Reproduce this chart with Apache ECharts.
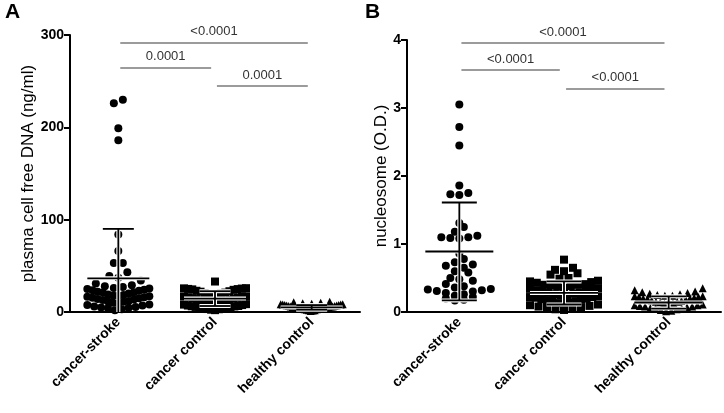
<!DOCTYPE html>
<html>
<head>
<meta charset="utf-8">
<script src="https://cdn.jsdelivr.net/npm/echarts@6/dist/echarts.min.js"></script>
<style>
html,body{margin:0;padding:0;background:#fff;}
#chart{width:724px;height:413px;}
</style>
</head>
<body>
<div id="chart"></div>
<script>
// ========== data ==========
const groups = ['cancer-stroke', 'cancer control', 'healthy control'];

// A: plasma cell free DNA (ng/ml)
const dnaStroke = [230, 226, 199, 186, 84, 66, 53, 53, 43, 39, 37, 34, 31, 29, 28, 27, 26, 25.5, 25, 24, 23.5, 23, 22,
    21.5, 21, 20, 19, 18.5, 18, 17.5, 17, 16.5, 16, 15.5, 15, 14, 13.5, 13, 12, 11.5, 11, 10, 9.5, 8, 7.5, 7, 6, 5.5, 5,
    4.5, 4, 3, 2];
const dnaCancer = [33, 25.8, 25.6, 25.4, 25, 24.8, 24.5, 24, 23, 22.5, 22, 21, 20.5, 20, 19, 18.5, 18, 17, 16.8, 16.5,
    16, 15.5, 15, 14.5, 14, 13, 12.5, 12, 11.5, 11, 10, 9.5, 9, 8.5, 8, 7.5, 7, 6.5, 6.2, 6, 5.5, 5, 4.5, 4.2, 4, 3.5,
    3.2, 3, 2.5, 2];
const dnaHealthy = [11, 10.5, 10, 9.5, 9, 8.5, 8.5, 8, 8, 7.5, 7.5, 7, 7, 6.5, 6.5, 6, 6, 6, 5.5, 5.5, 5, 5, 5, 4.5, 4.5,
    4, 4, 4, 3.5, 3.5, 3, 3, 2.5, 2, 2, 1.5, 1];
const dnaMean = [36.5, 14.5, 5];
const dnaSD = [53.5, 8, 2.5];
const dnaTicks = [0, 100, 200, 300];
const dnaP = ['<0.0001', '0.0001', '0.0001'];
const dnaPLevel = [292, 265, 245];

// B: nucleosome (O.D.)
const nucStroke = [3.05, 2.72, 2.45, 1.86, 1.75, 1.73, 1.72, 1.31, 1.25, 1.18, 1.12, 1.1, 1.1, 1.09, 1.08, 0.86, 0.78,
    0.73, 0.7, 0.68, 0.65, 0.6, 0.58, 0.5, 0.48, 0.46, 0.41, 0.38, 0.36, 0.34, 0.33, 0.32, 0.31, 0.3, 0.28, 0.26, 0.24,
    0.22, 0.2, 0.18, 0.17];
const nucCancer = [0.77, 0.65, 0.62, 0.6, 0.57, 0.55, 0.5, 0.49, 0.46, 0.45, 0.44, 0.43, 0.41, 0.4, 0.4, 0.39, 0.38, 0.37,
    0.36, 0.35, 0.34, 0.33, 0.32, 0.31, 0.3, 0.29, 0.28, 0.27, 0.26, 0.25, 0.24, 0.23, 0.22, 0.22, 0.21, 0.2, 0.19, 0.18,
    0.17, 0.16, 0.15, 0.14, 0.13, 0.12, 0.11, 0.1, 0.09, 0.08, 0.07, 0.06, 0.05, 0.04, 0.03];
const nucHealthy = [0.35, 0.32, 0.3, 0.29, 0.28, 0.27, 0.26, 0.25, 0.24, 0.24, 0.23, 0.23, 0.22, 0.22, 0.21, 0.2, 0.2,
    0.19, 0.18, 0.17, 0.16, 0.15, 0.15, 0.14, 0.13, 0.12, 0.12, 0.11, 0.1, 0.1, 0.09, 0.08, 0.08, 0.07, 0.06, 0.05,
    0.05, 0.04, 0.03, 0.02, 0.01];
const nucMean = [0.89, 0.28, 0.14];
const nucSD = [0.72, 0.17, 0.09];
const nucTicks = [0, 1, 2, 3, 4];
const nucP = ['<0.0001', '<0.0001', '<0.0001'];
const nucPLevel = [3.96, 3.56, 3.29];

// brackets: which groups each p value compares
const pPairs = [[0, 2], [0, 1], [1, 2]];

// ========== layout ==========
const FONT = '"Liberation Sans", Arial, sans-serif';
const SYM = 8;        // symbol size px
const STEP = 9;       // horizontal spacing between symbols in a row
const panels = [
    { grid: { left: 70, top: 35, width: 290, height: 277 }, ticks: dnaTicks, name: 'plasma cell free DNA (ng/ml)',
      sets: [dnaStroke, dnaCancer, dnaHealthy], mean: dnaMean, sd: dnaSD, p: dnaP, pLevel: dnaPLevel,
      halfMax: 31, meanHalf: 31, capHalf: 15.5, nameGap: 32 },
    { grid: { left: 407, top: 40, width: 314, height: 272 }, ticks: nucTicks, name: 'nucleosome (O.D.)',
      sets: [nucStroke, nucCancer, nucHealthy], mean: nucMean, sd: nucSD, p: nucP, pLevel: nucPLevel,
      halfMax: 34, meanHalf: 34, capHalf: 17.5, nameGap: 17 }
];
const symbols = ['circle', 'rect', 'triangle'];

// Prism style column scatter: points binned into rows one symbol high,
// lowest value of each row in the middle, higher ones pushed out to the sides
function swarm(vals, gi, pxY, pxX, halfMax) {
    const bin = SYM / pxY;
    const rows = {};
    vals.forEach(v => { const k = Math.floor(v / bin); (rows[k] = rows[k] || []).push(v); });
    const out = [];
    Object.values(rows).forEach(r => {
        r.sort((a, b) => a - b);
        const n = r.length;
        const step = n > 1 ? Math.min(STEP, 2 * halfMax / (n - 1)) : 0;
        const slots = [];
        for (let j = 0; j < n; j++) slots.push((j - (n - 1) / 2) * step);
        slots.sort((a, b) => Math.abs(a) - Math.abs(b) || a - b);
        r.forEach((v, i) => out.push([gi + 1 + slots[i] / pxX, v]));
    });
    return out;
}

function errorSeries(pi, p) {
    return {
        type: 'custom', xAxisIndex: pi * 2 + 1, yAxisIndex: pi, z: 5, silent: true,
        data: p.mean.map((m, i) => [i + 1, m, Math.max(0, m - p.sd[i]), m + p.sd[i]]),
        renderItem: (params, api) => {
            const x = api.value(0);
            const c = api.coord([x, api.value(1)]);
            const lo = api.coord([x, api.value(2)]);
            const hi = api.coord([x, api.value(3)]);
            const segs = [
                [c[0] - p.meanHalf, c[1], c[0] + p.meanHalf, c[1]],
                [c[0], lo[1], c[0], hi[1]],
                [c[0] - p.capHalf, hi[1], c[0] + p.capHalf, hi[1]]
            ];
            if (api.value(2) > 0) segs.push([c[0] - p.capHalf, lo[1], c[0] + p.capHalf, lo[1]]);
            const kids = [];
            // white halo first so the bars show up over solid clusters
            segs.forEach(s => kids.push({ type: 'line', shape: { x1: s[0], y1: s[1], x2: s[2], y2: s[3] },
                style: { stroke: '#fff', lineWidth: 4 } }));
            segs.forEach(s => kids.push({ type: 'line', shape: { x1: s[0], y1: s[1], x2: s[2], y2: s[3] },
                style: { stroke: '#000', lineWidth: 1.8 } }));
            return { type: 'group', children: kids };
        }
    };
}

const grids = [], xAxes = [], yAxes = [], series = [];
panels.forEach((p, pi) => {
    grids.push(p.grid);
    const ymax = p.ticks[p.ticks.length - 1];
    const pxY = p.grid.height / ymax;
    const pxX = p.grid.width / groups.length;
    xAxes.push({
        type: 'category', gridIndex: pi, data: groups, boundaryGap: true,
        axisLine: { lineStyle: { color: '#000', width: 2 } },
        axisTick: { alignWithLabel: true, length: 5, lineStyle: { color: '#000', width: 2 } },
        axisLabel: { interval: 0, rotate: 45, margin: 8, color: '#000', fontFamily: FONT, fontSize: 14, fontWeight: 'bold' },
        splitLine: { show: false }
    });
    xAxes.push({
        type: 'value', gridIndex: pi, min: 0.5, max: 3.5, show: false
    });
    yAxes.push({
        type: 'value', gridIndex: pi, min: 0, max: ymax, interval: p.ticks[1] - p.ticks[0],
        name: p.name, nameLocation: 'middle', nameGap: p.nameGap,
        nameTextStyle: { color: '#000', fontFamily: FONT, fontSize: 17 },
        axisLine: { show: true, lineStyle: { color: '#000', width: 2 } },
        axisTick: { show: true, length: 6, lineStyle: { color: '#000', width: 2 } },
        axisLabel: { color: '#000', fontFamily: FONT, fontSize: 14, fontWeight: 'bold', margin: 6 },
        splitLine: { show: false }
    });
    p.sets.forEach((vals, gi) => {
        series.push({
            type: 'scatter', xAxisIndex: pi * 2 + 1, yAxisIndex: pi, symbol: symbols[gi], symbolSize: SYM,
            itemStyle: { color: '#000', opacity: 1 }, silent: true,
            data: swarm(vals, gi, pxY, pxX, p.halfMax)
        });
    });
    series.push(errorSeries(pi, p));
    series.push({
        type: 'scatter', xAxisIndex: pi * 2 + 1, yAxisIndex: pi, data: [],
        markLine: {
            silent: true, symbol: 'none', animation: false,
            lineStyle: { color: '#7a7a7a', width: 1.5, type: 'solid' },
            label: { position: 'middle', formatter: '{b}', color: '#333', fontFamily: FONT, fontSize: 13, distance: 4 },
            data: pPairs.map((pr, k) => [
                { coord: [pr[0] + 1 + 0.02, p.pLevel[k]], name: p.p[k] },
                { coord: [pr[1] + 1 - 0.04, p.pLevel[k]] }
            ])
        }
    });
});

const chart = echarts.init(document.getElementById('chart'));
chart.setOption({
    animation: false,
    backgroundColor: '#fff',
    grid: grids,
    xAxis: xAxes,
    yAxis: yAxes,
    series: series,
    graphic: [
        { type: 'text', left: 5, top: 2, style: { text: 'A', fontFamily: FONT, fontSize: 21, fontWeight: 'bold', fill: '#000' } },
        { type: 'text', left: 365, top: 2, style: { text: 'B', fontFamily: FONT, fontSize: 21, fontWeight: 'bold', fill: '#000' } }
    ]
});
</script>
</body>
</html>
